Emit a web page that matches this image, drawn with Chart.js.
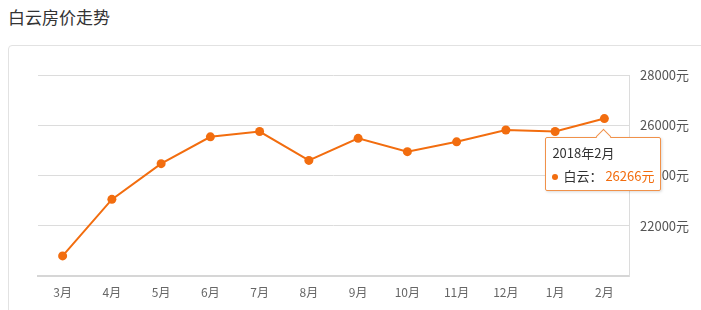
<!DOCTYPE html>
<html>
<head>
<meta charset="utf-8">
<script src="https://cdn.jsdelivr.net/npm/chart.js@4/dist/chart.umd.min.js"></script>
<style>
    body { margin: 0; background: #fff; font-family: "Noto Sans CJK SC", "Noto Sans", sans-serif; }
    #wrap { position: relative; width: 701px; height: 310px; overflow: hidden; }
    #title { position: absolute; left: 8px; top: 4px; font-size: 17px; color: #333; }
    #box { position: absolute; left: 8px; top: 45px; width: 740px; height: 320px; border: 1px solid #e2e2e2; border-radius: 4px; }
    #usageChart { position: absolute; left: 0; top: 0; }
    #tip { position: absolute; background: #fff; border: 1px solid #f0914a; border-radius: 2px;
           box-shadow: 1px 1px 3px rgba(0,0,0,0.15); font-size: 13px; line-height: 18px; color: #333;
           padding: 6px 6px 5px 6px; white-space: nowrap; }
    #tip .arrow { position: absolute; left: 50%; top: -7px; width: 10px; height: 10px; margin-left: -5px;
                  background: #fff; border-left: 1px solid #f0914a; border-top: 1px solid #f0914a; transform: rotate(45deg); }
    #tip .dot { display: inline-block; width: 6px; height: 6px; border-radius: 3px; background: #f26d0f; margin-right: 5px; vertical-align: 1px; }
    #tip .val { color: #f26d0f; margin-left: 3px; }
</style>
</head>
<body>
<div id="wrap">
    <div id="title">白云房价走势</div>
    <div id="box"></div>
    <canvas id="usageChart" width="701" height="310"></canvas>
    <div id="tip" style="display:none"></div>
</div>
<script>
const months = ["3月", "4月", "5月", "6月", "7月", "8月", "9月", "10月", "11月", "12月", "1月", "2月"];
const fullMonths = ["2017年3月", "2017年4月", "2017年5月", "2017年6月", "2017年7月", "2017年8月",
    "2017年9月", "2017年10月", "2017年11月", "2017年12月", "2018年1月", "2018年2月"];
const prices = [20800, 23050, 24470, 25540, 25750, 24600, 25480, 24950, 25340, 25810, 25750, 26266];
const seriesName = "白云";
const yTicks = [20000, 22000, 24000, 26000, 28000];

const orange = "#f26d0f";

function drawTip(context) {
    const tip = document.getElementById("tip");
    const model = context.tooltip;
    if (model.opacity === 0 || !model.dataPoints || !model.dataPoints.length) {
        tip.style.display = "none";
        return;
    }
    const i = model.dataPoints[0].dataIndex;
    tip.innerHTML = '<div class="arrow"></div>' +
        '<div style="margin-bottom:5px">' + fullMonths[i] + '</div>' +
        '<div><span class="dot"></span>' + seriesName + '：<span class="val">' + prices[i] + '元</span></div>';
    tip.style.display = "block";
    const w = tip.offsetWidth;
    tip.style.left = (model.caretX - w / 2 - 1) + "px";
    tip.style.top = (model.caretY + 18) + "px";
}

const ctx = document.getElementById("usageChart").getContext("2d");

const chart = new Chart(ctx, {
    type: "line",
    data: {
        labels: months,
        datasets: [
            {
                label: seriesName,
                data: prices,
                borderColor: orange,
                backgroundColor: orange,
                borderWidth: 2,
                pointRadius: 4.5,
                pointHoverRadius: 4.5,
                pointBorderWidth: 0,
                pointHoverBorderWidth: 0,
                tension: 0
            }
        ]
    },
    options: {
        responsive: false,
        animation: false,
        layout: { padding: { left: 38, top: 75, right: 0, bottom: 0 } },
        plugins: {
            legend: { display: false },
            tooltip: { enabled: false, external: drawTip }
        },
        scales: {
            x: {
                offset: true,
                grid: { display: false, drawTicks: true, tickLength: 5, offset: false },
                border: { display: true, color: "#d6d6d6", width: 2 },
                ticks: { color: "#666", font: { size: 12, family: "Noto Sans CJK SC" }, padding: 4 },
                afterFit: s => { s.height = 34; }
            },
            y: {
                position: "right",
                min: 20000,
                max: 28000,
                afterBuildTicks: s => { s.ticks = yTicks.map(v => ({ value: v })); },
                grid: { color: "#dcdcdc", drawTicks: false },
                border: { display: true, color: "#dcdcdc", width: 1 },
                ticks: {
                    color: "#555",
                    padding: 11,
                    font: { size: 13, family: "Noto Sans CJK SC" },
                    callback: v => v === 20000 ? "" : v + "元"
                },
                afterFit: s => { s.width = 72; }
            }
        }
    }
});

chart.tooltip.setActiveElements([{ datasetIndex: 0, index: 11 }], { x: 0, y: 0 });
chart.update();
</script>
</body>
</html>
